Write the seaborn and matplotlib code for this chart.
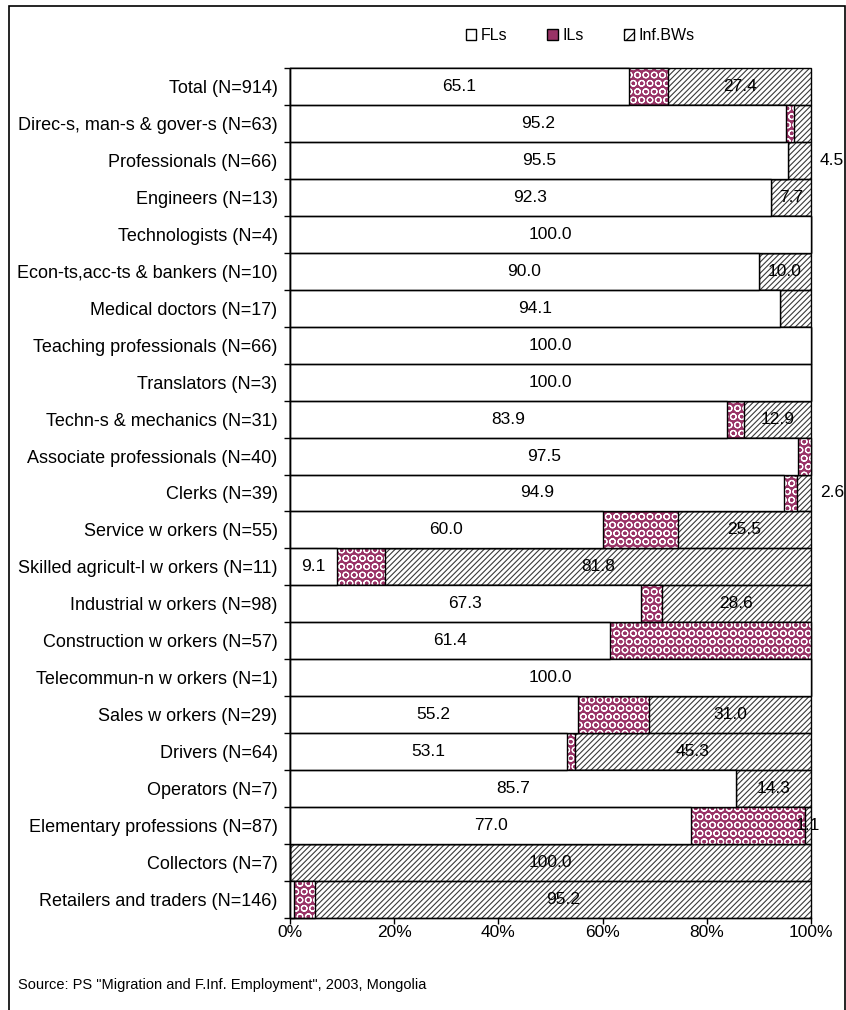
import numpy as np
import pandas as pd
import matplotlib
matplotlib.use("Agg")
import matplotlib.pyplot as plt
from matplotlib.patches import Patch, Rectangle
import seaborn as sns

categories = [
    "Total (N=914)",
    "Direc-s, man-s & gover-s (N=63)",
    "Professionals (N=66)",
    "Engineers (N=13)",
    "Technologists (N=4)",
    "Econ-ts,acc-ts & bankers (N=10)",
    "Medical doctors (N=17)",
    "Teaching professionals (N=66)",
    "Translators (N=3)",
    "Techn-s & mechanics (N=31)",
    "Associate professionals (N=40)",
    "Clerks (N=39)",
    "Service w orkers (N=55)",
    "Skilled agricult-l w orkers (N=11)",
    "Industrial w orkers (N=98)",
    "Construction w orkers (N=57)",
    "Telecommun-n w orkers (N=1)",
    "Sales w orkers (N=29)",
    "Drivers (N=64)",
    "Operators (N=7)",
    "Elementary professions (N=87)",
    "Collectors (N=7)",
    "Retailers and traders (N=146)",
]

# shares of formal jobs, informal jobs and informal business workers, %
fls = [65.1, 95.2, 95.5, 92.3, 100.0, 90.0, 94.1, 100.0, 100.0, 83.9, 97.5, 94.9,
       60.0, 9.1, 67.3, 61.4, 100.0, 55.2, 53.1, 85.7, 77.0, 0.0, 0.7]
ils = [7.5, 1.6, 0.0, 0.0, 0.0, 0.0, 0.0, 0.0, 0.0, 3.2, 2.5, 2.5,
       14.5, 9.1, 4.1, 38.6, 0.0, 13.8, 1.6, 0.0, 21.9, 0.0, 4.1]
infs = [27.4, 3.2, 4.5, 7.7, 0.0, 10.0, 5.9, 0.0, 0.0, 12.9, 0.0, 2.6,
        25.5, 81.8, 28.6, 0.0, 0.0, 31.0, 45.3, 14.3, 1.1, 100.0, 95.2]

# which values are printed, and where the Inf.BWs value sits
fl_labeled = [True] * 21 + [False, False]
inf_label_place = ["in", None, "out", "in", None, "in", None, None, None, "in", None, "out",
                   "in", "in", "in", None, None, "in", "in", "in", "in", "in", "in"]

series_names = ["FLs", "ILs", "Inf.BWs"]
tick_values = [0, 20, 40, 60, 80, 100]

df = pd.DataFrame({
    "cat": categories,
    "fl": fls,
    "fl_il": np.add(fls, ils),
    "total": np.add(np.add(fls, ils), infs),
})

plt.rcParams["font.family"] = ["Liberation Sans", "DejaVu Sans"]
plt.rcParams["hatch.linewidth"] = 0.8

fig = plt.figure(figsize=(8.46, 10.10), dpi=100)
ax = fig.add_axes([0.3428, 0.0911, 0.9586 - 0.3428, 0.9327 - 0.0911])

IL_FACE = "#993366"
IL_HATCH = "white"
IL_PATTERN = "OO"
INF_HATCH = "#3a3a3a"
INF_PATTERN = "//////"
LABEL_SIZE = 12.5
CAT_SIZE = 13


def layer(col, face, hatch, hatch_color):
    sns.barplot(data=df, x=col, y="cat", orient="h", ax=ax, color=face,
                saturation=1, width=1.0, errorbar=None, linewidth=0)
    for p in ax.containers[-1]:
        if hatch:
            p.set_hatch(hatch)
            p.set_edgecolor(hatch_color)
            p.set_linewidth(0)
    sns.barplot(data=df, x=col, y="cat", orient="h", ax=ax, color=face,
                saturation=1, width=1.0, errorbar=None)
    for p in ax.containers[-1]:
        p.set_facecolor("none")
        p.set_edgecolor("black")
        p.set_linewidth(1.0)
        p.set_hatch(None)
        p.set_clip_on(False)


layer("total", "white", INF_PATTERN, INF_HATCH)
layer("fl_il", IL_FACE, IL_PATTERN, IL_HATCH)
layer("fl", "white", None, None)

# value labels
for i in range(len(categories)):
    if fl_labeled[i]:
        ax.text(fls[i] / 2, i, f"{fls[i]:.1f}", ha="center", va="center", fontsize=LABEL_SIZE)
    place = inf_label_place[i]
    if place is not None:
        start = fls[i] + ils[i]
        xpos = start + infs[i] / 2 if place == "in" else 104.0
        ax.text(xpos, i, f"{infs[i]:.1f}", ha="center", va="center", fontsize=LABEL_SIZE,
                clip_on=False)

n = len(categories)
ax.set_xlim(0, 100)
ax.set_ylim(n - 0.5, -0.5)
ax.set_xticks(tick_values)
ax.set_xticklabels([f"{v}%" for v in tick_values], fontsize=LABEL_SIZE)
ax.set_yticks(range(n))
ax.set_yticklabels(categories, fontsize=CAT_SIZE)
ax.set_yticks(np.arange(-0.5, n, 1.0), minor=True)
ax.tick_params(axis="y", which="major", length=0, pad=9)
ax.tick_params(axis="y", which="minor", length=4, width=1, direction="out")
ax.tick_params(axis="x", which="major", length=4, width=1, direction="out", pad=1)
ax.set_xlabel("")
ax.set_ylabel("")
for s in ["top", "right"]:
    ax.spines[s].set_visible(False)
for s in ["left", "bottom"]:
    ax.spines[s].set_linewidth(1.0)
    ax.spines[s].set_color("black")

# legend
handles = [
    Patch(facecolor="white", edgecolor="black", linewidth=1.0),
    Patch(facecolor=IL_FACE, edgecolor="black", linewidth=1.0),
    Patch(facecolor="white", edgecolor="black", linewidth=1.0, hatch="///"),
]
fig.legend(handles, series_names, loc="center", bbox_to_anchor=(0.686, 0.965), ncol=3,
           frameon=False, fontsize=11.5, handlelength=0.65, handleheight=0.65,
           handletextpad=0.3, columnspacing=2.5)

fig.text(18 / 846, 1 - 985 / 1010, 'Source: PS "Migration and F.Inf. Employment", 2003, Mongolia',
         ha="left", va="center", fontsize=10.5)

# chart frame
fig.add_artist(Rectangle((9 / 846, -0.05), (845 - 9) / 846, 1.05 - 6 / 1010,
                         transform=fig.transFigure, fill=False, edgecolor="black",
                         linewidth=1.2))

fig.savefig("out.png", dpi=100)
